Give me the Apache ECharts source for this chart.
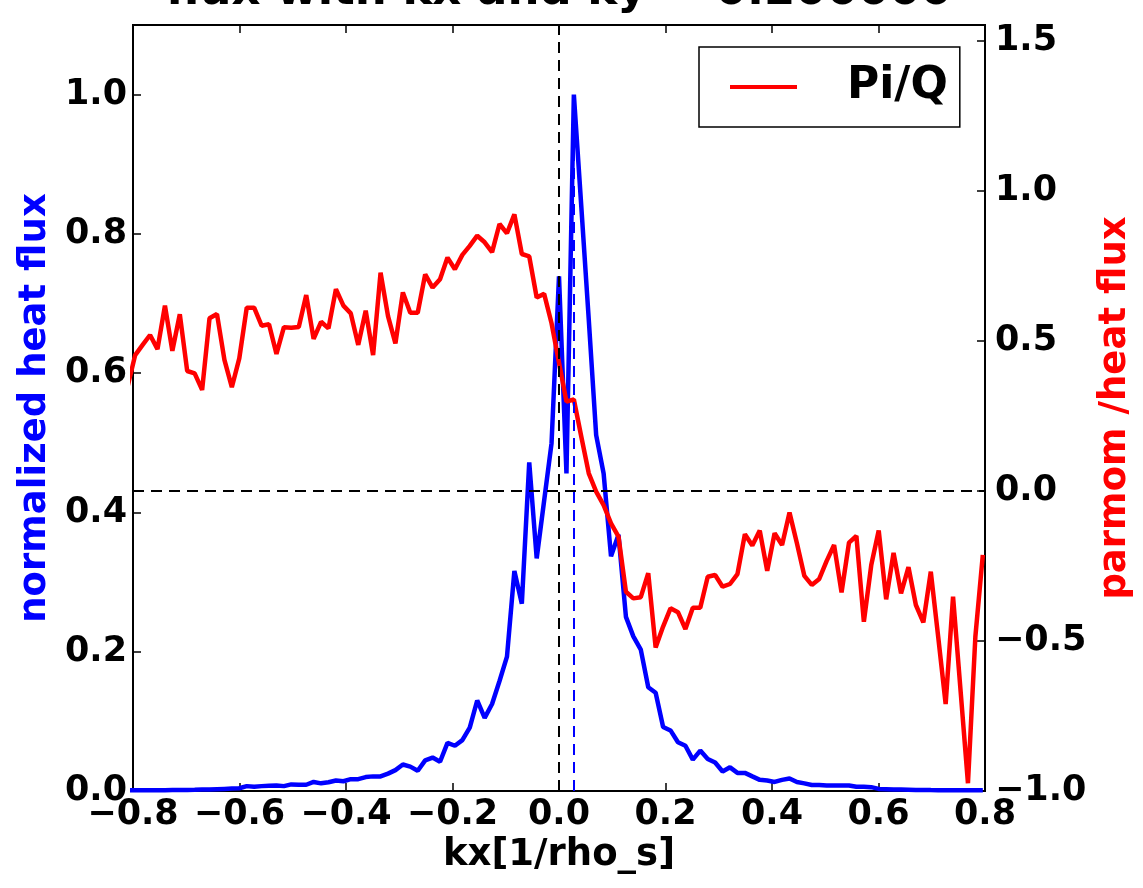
<!DOCTYPE html>
<html><head><meta charset="utf-8">
<script src="https://cdn.jsdelivr.net/npm/echarts@6/dist/echarts.min.js"></script>
<style>html,body{margin:0;padding:0;background:#fff}#c{width:1143px;height:888px}</style>
</head><body><div id="c"></div>
<script>
const titleText = 'flux with kx and ky = 0.200000';
const xName = 'kx[1/rho_s]';
const yLeftName = 'normalized heat flux';
const yRightName = 'parmom /heat flux';
const legendName = 'Pi/Q';

// kx grid
const kx = [
-0.8099,-0.7959,-0.7819,-0.7680,-0.7540,-0.7400,-0.7261,-0.7121,-0.6982,-0.6842,
-0.6702,-0.6563,-0.6423,-0.6283,-0.6144,-0.6004,-0.5864,-0.5725,-0.5585,-0.5446,
-0.5306,-0.5166,-0.5027,-0.4887,-0.4747,-0.4608,-0.4468,-0.4329,-0.4189,-0.4049,
-0.3910,-0.3770,-0.3630,-0.3491,-0.3351,-0.3211,-0.3072,-0.2932,-0.2793,-0.2653,
-0.2513,-0.2374,-0.2234,-0.2094,-0.1955,-0.1815,-0.1676,-0.1536,-0.1396,-0.1257,
-0.1117,-0.0977,-0.0838,-0.0698,-0.0559,-0.0419,-0.0279,-0.0140,0.0000,
0.0140,0.0279,0.0419,0.0559,0.0698,0.0838,0.0977,0.1117,0.1257,0.1396,
0.1536,0.1676,0.1815,0.1955,0.2094,0.2234,0.2374,0.2513,0.2653,0.2793,
0.2932,0.3072,0.3211,0.3351,0.3491,0.3630,0.3770,0.3910,0.4049,0.4189,
0.4329,0.4468,0.4608,0.4747,0.4887,0.5027,0.5166,0.5306,0.5446,0.5585,
0.5725,0.5864,0.6004,0.6144,0.6283,0.6423,0.6563,0.6702,0.6842,0.6982,
0.7121,0.7261,0.7400,0.7540,0.7680,0.7819,0.7959
];

// normalized heat flux (left axis)
const heatFlux = [
0.001,0.001,0.001,0.001,0.0012,0.0012,0.0013,0.0014,0.0015,0.0017,
0.002,0.002,0.0025,0.003,0.0035,0.004,0.007,0.006,0.007,0.0075,
0.008,0.007,0.0095,0.009,0.009,0.013,0.011,0.0125,0.015,0.014,
0.017,0.017,0.020,0.021,0.021,0.025,0.030,0.038,0.035,0.029,
0.044,0.048,0.042,0.069,0.065,0.073,0.091,0.130,0.105,0.125,
0.158,0.193,0.316,0.269,0.472,0.334,0.417,0.4995,0.739,
0.456,1.000,0.839,0.677,0.511,0.456,0.337,0.368,0.250,0.222,
0.203,0.149,0.141,0.092,0.087,0.070,0.065,0.045,0.058,0.046,
0.041,0.028,0.034,0.026,0.026,0.021,0.016,0.015,0.013,0.016,
0.018,0.013,0.011,0.0086,0.0086,0.008,0.008,0.008,0.008,0.006,
0.006,0.0055,0.003,0.0025,0.002,0.002,0.0018,0.0015,0.0015,0.0013,
0.0012,0.0012,0.001,0.001,0.001,0.001,0.001
];

// parmom / heat flux (right axis)
const piOverQ = [
0.35,0.453,0.487,0.52,0.473,0.618,0.467,0.589,0.40,0.392,
0.337,0.576,0.59,0.437,0.346,0.442,0.611,0.611,0.551,0.556,
0.457,0.546,0.544,0.547,0.653,0.507,0.564,0.542,0.673,0.618,
0.592,0.487,0.601,0.453,0.728,0.583,0.492,0.662,0.594,0.594,
0.722,0.678,0.706,0.778,0.739,0.787,0.817,0.851,0.829,0.796,
0.89,0.859,0.922,0.79,0.782,0.645,0.657,0.559,0.428,
0.298,0.305,0.181,0.059,-0.002,-0.047,-0.108,-0.152,-0.336,-0.358,
-0.354,-0.274,-0.522,-0.452,-0.391,-0.404,-0.46,-0.389,-0.389,-0.286,
-0.28,-0.319,-0.31,-0.277,-0.144,-0.182,-0.132,-0.266,-0.141,-0.18,
-0.072,-0.174,-0.283,-0.313,-0.293,-0.233,-0.18,-0.338,-0.172,-0.15,
-0.436,-0.247,-0.132,-0.361,-0.206,-0.341,-0.254,-0.38,-0.438,-0.269,
-0.486,-0.71,-0.352,-0.663,-0.974,-0.486,-0.213
];

const xMin = -0.8, xMax = 0.8, xStep = 0.2;
const yLMin = 0, yLMax = 1.1, yLStep = 0.2;
const yRMin = -1.0, yRMax = 1.5533, yRStep = 0.5;

const FONT = 'DejaVu Sans';
function fmt(v){ const s = Math.abs(v).toFixed(1); return (v < -1e-9 ? '\u2212' : '') + s; }
function fmtStep(step){ return function(v){ const r = v/step; return Math.abs(r - Math.round(r)) > 1e-6 ? '' : fmt(v); }; }

const bluePts = kx.map((x,i)=>[x, heatFlux[i]]);
const redPts = kx.map((x,i)=>[x, piOverQ[i]]);
let iMax = 0; heatFlux.forEach((v,i)=>{ if (v > heatFlux[iMax]) iMax = i; });
const kxPeak = kx[iMax], peakVal = heatFlux[iMax];

const tickStyle = {show:true, inside:true, length:8, lineStyle:{color:'#000', width:1.5}};
const lineStyleAx = {show:true, onZero:false, lineStyle:{color:'#000', width:2}};
const lblStyle = {color:'#000', fontFamily:FONT, fontWeight:'bold', fontSize:35};
const nameStyle = (c)=>({color:c, fontFamily:FONT, fontWeight:'bold', fontSize:37});
const dash = [11,7];

const chart = echarts.init(document.getElementById('c'), null, {renderer:'canvas'});
chart.setOption({
  animation:false,
  backgroundColor:'#fff',
  grid:{left:133, right:158, top:25, bottom:97, show:true, borderColor:'#000', borderWidth:2, backgroundColor:'transparent'},
  graphic:[{type:'text', x:559, y:-8, z:100, style:{text:titleText, fill:'#000', font:'bold 45px "DejaVu Sans"', textAlign:'center', textVerticalAlign:'middle'}}],
  legend:{
    data:[{name:legendName, icon:'rect'}], left:699, top:47, itemWidth:67, itemHeight:4, itemGap:0,
    padding:[18,12,18,31], borderColor:'#000', borderWidth:1.5, backgroundColor:'#fff', borderRadius:0,
    selectedMode:false,
    textStyle:{color:'#000', fontFamily:FONT, fontWeight:'bold', fontSize:44, lineHeight:44, padding:[0,0,0,45]}
  },
  xAxis:[
    {type:'value', position:'bottom', min:xMin, max:xMax, interval:xStep,
     axisLine:lineStyleAx, axisTick:tickStyle, splitLine:{show:false},
     axisLabel:Object.assign({margin:6, formatter:fmtStep(xStep), showMinLabel:true, showMaxLabel:true}, lblStyle),
     name:xName, nameLocation:'middle', nameGap:44, nameTextStyle:nameStyle('#000')},
    {type:'value', position:'top', min:xMin, max:xMax, interval:xStep,
     axisLine:lineStyleAx, axisTick:tickStyle, splitLine:{show:false},
     axisLabel:{show:false}}
  ],
  yAxis:[
    {type:'value', position:'left', min:yLMin, max:yLMax, interval:yLStep,
     axisLine:lineStyleAx, axisTick:tickStyle, splitLine:{show:false},
     axisLabel:Object.assign({margin:6, formatter:fmtStep(yLStep)}, lblStyle),
     name:yLeftName, nameLocation:'middle', nameGap:72, nameTextStyle:nameStyle('#0000ff')},
    {type:'value', position:'right', min:yRMin, max:yRMax, interval:yRStep,
     axisLine:lineStyleAx, axisTick:tickStyle, splitLine:{show:false},
     axisLabel:Object.assign({margin:10, formatter:fmtStep(yRStep)}, lblStyle),
     name:yRightName, nameLocation:'middle', nameGap:112, nameTextStyle:nameStyle('#ff0000')}
  ],
  series:[
    {name:'heat flux', type:'line', xAxisIndex:0, yAxisIndex:0, data:bluePts, showSymbol:false, symbol:'none',
     lineStyle:{color:'#0000ff', width:4.5}, itemStyle:{color:'#0000ff'}, clip:true, z:2,
     markLine:{silent:true, symbol:['none','none'], label:{show:false}, animation:false,
       data:[
         {xAxis:0, lineStyle:{color:'#000', type:dash, width:2}},
         [{coord:[kxPeak,0], lineStyle:{color:'#0000ff', type:dash, width:2}},{coord:[kxPeak,peakVal]}]
       ]}},
    {name:legendName, type:'line', xAxisIndex:0, yAxisIndex:1, data:redPts, showSymbol:false, symbol:'none',
     lineStyle:{color:'#ff0000', width:4.5}, itemStyle:{color:'#ff0000'}, clip:true, z:3,
     markLine:{silent:true, symbol:['none','none'], label:{show:false}, animation:false,
       data:[{yAxis:0, lineStyle:{color:'#000', type:dash, width:2}}]}}
  ]
});
</script>
</body></html>
